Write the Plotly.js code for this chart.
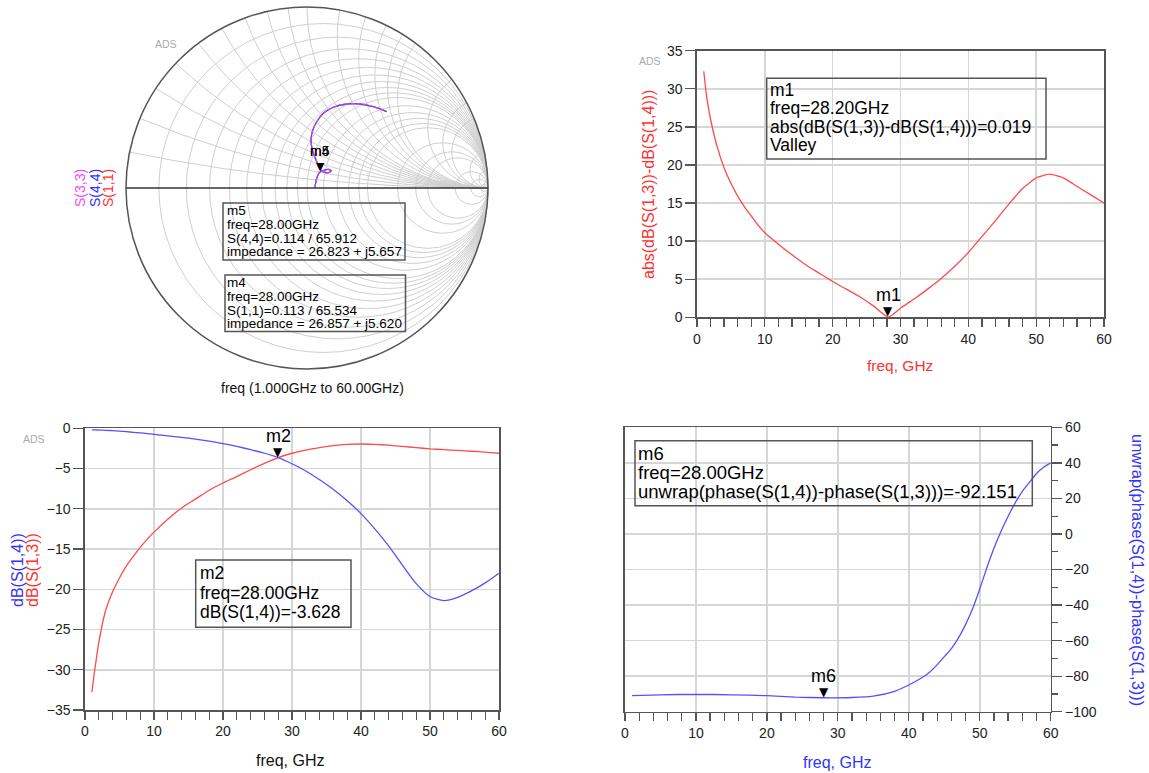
<!DOCTYPE html>
<html><head><meta charset="utf-8">
<script src="https://cdn.plot.ly/plotly-3.0.1.min.js"></script>
<style>html,body{margin:0;padding:0;background:#fff;}</style>
</head><body><div id="chart" style="width:1149px;height:773px;"></div>
<script>
// ---------- DATA ----------
// Top-right: abs(dB(S13)-dB(S14))
const freqDiff = [1,1.25,1.5,2,3,4,5,6,7,8,9,10,12,14,16,18,20,22,24,26,28.2,30,32,34,36,38,40,42,44,46,48,50,52,54,56,58,60];
const diffDb   = [32.3,30.2,28.5,26,22.3,19.6,17.6,15.9,14.5,13.3,12.1,11.1,9.6,8.2,6.9,5.8,4.7,3.7,2.7,1.5,0.019,1.2,2.4,3.7,5.1,6.7,8.5,10.6,12.7,14.9,16.9,18.3,18.8,18.3,17.2,16.1,15];
// Bottom-left: dB(S(1,3)) and dB(S(1,4))
const freqS = [1,1.25,1.5,2,3,4,5,6,7,8,9,10,12,14,16,18,20,22,24,26,28,30,32,34,36,38,40,42,44,46,48,50,52,54,56,58,60];
const dbS13 = [-32.8,-31.0,-29.5,-26.6,-22.6,-20.3,-18.6,-17.1,-15.9,-14.8,-13.8,-12.9,-11.3,-9.9,-8.8,-7.7,-6.8,-6.0,-5.15,-4.35,-3.63,-3.1,-2.7,-2.4,-2.15,-2.0,-1.95,-2.0,-2.1,-2.25,-2.4,-2.55,-2.65,-2.75,-2.85,-2.95,-3.1];
const dbS14 = [-0.2,-0.2,-0.2,-0.22,-0.25,-0.3,-0.35,-0.42,-0.5,-0.57,-0.65,-0.75,-0.93,-1.12,-1.35,-1.6,-1.9,-2.25,-2.65,-3.1,-3.63,-4.4,-5.3,-6.4,-7.6,-9.0,-10.6,-12.5,-14.6,-17.0,-19.3,-20.9,-21.4,-21.0,-20.2,-19.2,-18.0];
// Bottom-right: unwrap(phase(S14)-phase(S13))
const freqPh = [1,5,10,15,20,24,28,32,35,38,40,42,43,44,45,46,47,48,49,50,51,52,53,54,55,56,57,58,59,60];
const phaseDiff = [-91,-90.5,-90.2,-90.5,-91,-91.8,-92.15,-92,-91.2,-88.5,-85,-80.5,-77.5,-73.5,-69,-64.5,-58.5,-51,-42,-31,-19,-8,1.5,10,17.5,24,29,34,37.5,40];
// Smith chart: reflection coefficient (real, imag) of S(1,1)/S(4,4)/S(3,3), 1 to 60 GHz
const gammaRe = [0.044,0.054,0.068,0.090,0.118,0.133,0.118,0.094,0.072,0.054,0.032,0.022,0.032,0.054,0.090,0.145,0.219,0.293,0.366,0.440];
const gammaIm = [0.004,0.054,0.085,0.096,0.103,0.094,0.085,0.088,0.103,0.145,0.201,0.265,0.320,0.366,0.413,0.446,0.464,0.464,0.449,0.422];
// Markers
const m1 = {f:28.2, v:0.019};
const m2 = {f:28.0, v:-3.628};
const m6 = {f:28.0, v:-92.151};
const smithResTicks = [0.1,0.2,0.3,0.4,0.5,0.6,0.7,0.8,0.9,1,1.2,1.4,1.6,1.8,2,3,4,5,10,20,50];
const smithReacTicks = [0.1,0.2,0.3,0.4,0.5,0.6,0.7,0.8,0.9,1,1.2,1.4,1.6,1.8,2,3,4,5,10,20,50];

// ---------- helpers ----------
const W=1149,H=773;
const F='Liberation Sans, Arial, sans-serif';
const px=x=>x/W, py=y=>1-y/H;
function toZ(re,im){ // z=(1+G)/(1-G)
  const nr=1+re, ni=im, dr=1-re, di=-im, d=dr*dr+di*di;
  return [(nr*dr+ni*di)/d,(ni*dr-nr*di)/d];
}
const zRe=[], zIm=[];
gammaRe.forEach((g,i)=>{const z=toZ(g,gammaIm[i]); zRe.push(z[0]); zIm.push(z[1]);});

const RED='#ff4a4a', BLUE='#5252ff', MAG='#dd44ee', FRAME='#555', GRID='#d6d6d6';

const traces=[
  {type:'scattersmith',subplot:'smith',real:zRe,imag:zIm,mode:'lines',line:{color:RED,width:1.3,shape:'spline'},name:'S(1,1)',showlegend:false},
  {type:'scattersmith',subplot:'smith',real:zRe,imag:zIm,mode:'lines',line:{color:BLUE,width:1.3,shape:'spline'},name:'S(4,4)',showlegend:false},
  {type:'scattersmith',subplot:'smith',real:zRe,imag:zIm,mode:'lines',line:{color:MAG,width:1.3,shape:'spline',dash:'dot'},name:'S(3,3)',showlegend:false},
  {x:freqDiff,y:diffDb,xaxis:'x',yaxis:'y',mode:'lines',line:{color:RED,width:1.3,shape:'spline',smoothing:0.5},showlegend:false},
  {x:freqS,y:dbS13,xaxis:'x2',yaxis:'y2',mode:'lines',line:{color:RED,width:1.3,shape:'spline',smoothing:0.6},showlegend:false},
  {x:freqS,y:dbS14,xaxis:'x2',yaxis:'y2',mode:'lines',line:{color:BLUE,width:1.3,shape:'spline',smoothing:0.6},showlegend:false},
  {x:freqPh,y:phaseDiff,xaxis:'x3',yaxis:'y3',mode:'lines',line:{color:BLUE,width:1.3,shape:'spline',smoothing:0.6},showlegend:false}
];

const tickFont={family:F,size:14,color:'#222'};
function xax(domain,anchor){return {domain,anchor,range:[0,60],dtick:10,tick0:0,ticks:'outside',ticklen:8,tickwidth:1.3,tickcolor:FRAME,
  showline:true,mirror:true,linecolor:FRAME,linewidth:1.6,showgrid:true,gridcolor:GRID,gridwidth:1.5,zeroline:false,tickfont:tickFont,
  minor:{dtick:2,ticks:'outside',ticklen:8,tickwidth:1.3,tickcolor:FRAME,showgrid:false},fixedrange:true};}
function yax(domain,anchor,range,dtick,side,minor){const a={domain,anchor,range,dtick,ticks:'outside',ticklen:10,tickwidth:1.3,tickcolor:FRAME,side:side||'left',
  showline:true,mirror:true,linecolor:FRAME,linewidth:1.6,showgrid:true,gridcolor:GRID,gridwidth:1.5,zeroline:false,tickfont:tickFont,fixedrange:true};
  if(minor) a.minor={dtick:minor,ticks:'outside',ticklen:6,tickwidth:1.3,tickcolor:FRAME,showgrid:false};
  return a;}

const ann=[];
function txt(x,y,t,opt){ann.push(Object.assign({xref:'paper',yref:'paper',x:px(x),y:py(y),text:t,showarrow:false,xanchor:'center',yanchor:'middle',
  font:{family:F,size:14,color:'#000'}},opt||{}));}
function lines(list,x,ys,size){list.forEach((t,i)=>txt(x,ys[i],t,{xanchor:'left',font:{family:F,size,color:'#000'}}));}

// ADS labels
[[650,61],[34,439],[166,44]].forEach(p=>txt(p[0],p[1],'ADS',{font:{family:F,size:10.5,color:'#aaa'}}));
// Smith labels
txt(312,388,'freq (1.000GHz to 60.00GHz)',{font:{family:F,size:14,color:'#111'}});
txt(80,188,'S(3,3)',{textangle:-90,font:{family:F,size:14,color:'#ff44ee'}});
txt(95,188,'S(4,4)',{textangle:-90,font:{family:F,size:14,color:'#3333ff'}});
txt(108,188,'S(1,1)',{textangle:-90,font:{family:F,size:14,color:'#ff3333'}});
txt(320,151.5,'m5',{font:{family:F,size:14,color:'#000'}});
txt(320,151.5,'m4',{font:{family:F,size:14,color:'#000'}});
txt(320,166.5,'▼',{font:{family:'DejaVu Sans',size:11,color:'#000'}});
lines(['m5','freq=28.00GHz','S(4,4)=0.114 / 65.912','impedance = 26.823 + j5.657'],225,[210.5,224.5,238,251.5],13.5);
lines(['m4','freq=28.00GHz','S(1,1)=0.113 / 65.534','impedance = 26.857 + j5.620'],225,[282.5,296.3,310,323.5],13.5);
// Top-right
txt(900,365,'freq, GHz',{font:{family:F,size:15.5,color:'#ff3030'}});
txt(649,185,'abs(dB(S(1,3))-dB(S(1,4)))',{textangle:-90,font:{family:F,size:16,color:'#ff3030'}});
lines(['m1','freq=28.20GHz','abs(dB(S(1,3))-dB(S(1,4)))=0.019','Valley'],768,[90,108.3,126.7,145],17.5);
ann.push({xref:'x',yref:'y',x:m1.f,y:m1.v,text:'▼',showarrow:false,yanchor:'bottom',yshift:-3,font:{family:'DejaVu Sans',size:12,color:'#000'}});
ann.push({xref:'x',yref:'y',x:m1.f,y:m1.v,text:'m1',showarrow:false,yanchor:'bottom',yshift:10,font:{family:F,size:18,color:'#000'}});
// Bottom-left
txt(290,760,'freq, GHz',{font:{family:F,size:16,color:'#111'}});
txt(17,570,'dB(S(1,4))',{textangle:-90,font:{family:F,size:16,color:'#3333ff'}});
txt(32,570,'dB(S(1,3))',{textangle:-90,font:{family:F,size:16,color:'#ff3030'}});
lines(['m2','freq=28.00GHz','dB(S(1,4))=-3.628'],198,[573.3,592.7,611.7],17.5);
ann.push({xref:'x2',yref:'y2',x:m2.f,y:m2.v,text:'▼',showarrow:false,yanchor:'bottom',yshift:-3,font:{family:'DejaVu Sans',size:12,color:'#000'}});
ann.push({xref:'x2',yref:'y2',x:m2.f,y:m2.v,text:'m2',showarrow:false,yanchor:'bottom',yshift:10,font:{family:F,size:18,color:'#000'}});
// Bottom-right
txt(837,762,'freq, GHz',{font:{family:F,size:16,color:'#3333ff'}});
txt(1138,570,'unwrap(phase(S(1,4))-phase(S(1,3)))',{textangle:90,font:{family:F,size:16.5,color:'#3333ff'}});
lines(['m6','freq=28.00GHz','unwrap(phase(S(1,4))-phase(S(1,3)))=-92.151'],636,[453.3,472.7,491.7],18.5);
ann.push({xref:'x3',yref:'y3',x:m6.f,y:m6.v,text:'▼',showarrow:false,yanchor:'bottom',yshift:-3,font:{family:'DejaVu Sans',size:12,color:'#000'}});
ann.push({xref:'x3',yref:'y3',x:m6.f,y:m6.v,text:'m6',showarrow:false,yanchor:'bottom',yshift:10,font:{family:F,size:18,color:'#000'}});

function box(x0,y0,x1,y1){return {type:'rect',xref:'paper',yref:'paper',x0:px(x0),x1:px(x1),y0:py(y1),y1:py(y0),line:{color:'#555',width:1.5},fillcolor:'rgba(0,0,0,0)'};}
const shapes=[box(223,203,405,260),box(225,275,405.5,331.5),box(766.7,78.3,1046,159),box(195.7,560,351,627.3),box(635,440.7,1032.3,505.7)];

const layout={
  width:W,height:H,autosize:false,margin:{l:0,r:0,t:0,b:0},paper_bgcolor:'#fff',plot_bgcolor:'#fff',showlegend:false,
  font:{family:F},
  smith:{domain:{x:[px(126),px(488)],y:[py(369),py(7)]},bgcolor:'#fff',
    realaxis:{tickvals:smithResTicks,showticklabels:false,ticks:'',gridcolor:'#cfcfcf',gridwidth:1,linecolor:'#333',linewidth:1.5,showline:true},
    imaginaryaxis:{tickvals:smithReacTicks,showticklabels:false,ticks:'',gridcolor:'#cfcfcf',gridwidth:1,linecolor:'#555',linewidth:1.5,showline:true}},
  xaxis:xax([px(697),px(1104)],'y'),
  yaxis:yax([py(317.3),py(50.7)],'x',[0,35],5),
  xaxis2:xax([px(85),px(499)],'y2'),
  yaxis2:yax([py(710),py(428.3)],'x2',[-35,0],5),
  xaxis3:xax([px(625),px(1050.7)],'y3'),
  yaxis3:yax([py(711.7),py(427.3)],'x3',[-100,60],20,'right',10),
  annotations:ann,shapes:shapes
};
Plotly.newPlot('chart',traces,layout,{staticPlot:true,displayModeBar:false});
</script></body></html>
